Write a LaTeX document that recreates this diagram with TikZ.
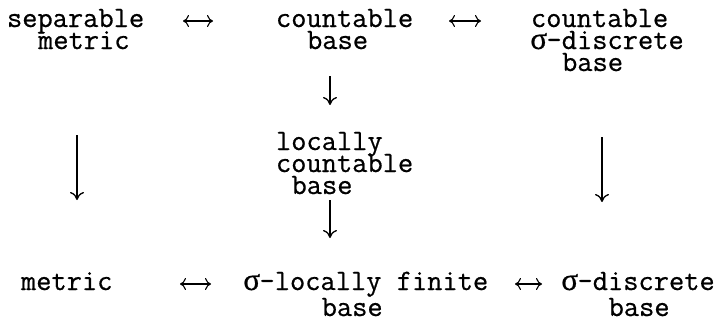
\documentclass[tikz,border=0pt]{standalone}
\usepackage{fontspec}
\usetikzlibrary{arrows.meta}
\newfontfamily\tw{Latin Modern Mono}[FakeBold=0.6]
\newfontfamily\grk{Liberation Serif}[FakeBold=0.6]
\newdimen\cellw \cellw=7.77pt
\newcommand{\sig}{\makebox[\cellw]{\grk\fontsize{15.6}{11}\selectfont σ}}
\newcommand{\ind}[1]{\hspace*{#1\cellw}}
\newcommand{\fl}{\rule{0pt}{10pt}}
\lineskiplimit=-200pt
\lineskip=0pt
\tikzset{
  lab/.style={anchor=north west, inner sep=0pt, outer sep=0pt, align=left,
    font=\fontsize{14.8}{11}\selectfont\tw},
  imp/.style={line width=0.65pt, -{Computer Modern Rightarrow[length=4pt,width=7pt]}},
  eqv/.style={line width=0.55pt, {Computer Modern Rightarrow[length=3pt,width=6pt]}-{Computer Modern Rightarrow[length=3pt,width=6pt]}}
}
\begin{document}
\begin{tikzpicture}[x=0.5pt,y=-0.5pt]
\useasboundingbox (0,0) rectangle (722,321);
% first-line baseline = node top + 20 (px)
\node[lab] (sep) at (7,7)   {\fl separable\\\ind{2}metric};
\node[lab] (cb)  at (276,7) {\fl countable\\\ind{2}base};
\node[lab] (csd) at (531,7) {\fl countable\\\sig-discrete\\\ind{2}base};
\node[lab] (lc)  at (276,130) {\fl locally\\countable\\\ind{1}base};
\node[lab] (m)   at (21,270)  {\fl metric};
\node[lab] (slf) at (244,270) {\fl\sig-locally finite\\[2pt]\ind{5}base};
\node[lab] (sd)  at (562,270) {\fl\sig-discrete\\[2pt]\ind{3}base};
% equivalences
\coordinate (e1a) at (183,21); \coordinate (e1b) at (213,21);
\coordinate (e2a) at (449,21); \coordinate (e2b) at (481,21);
\coordinate (e3a) at (180,284); \coordinate (e3b) at (211,284);
\coordinate (e4a) at (515,284); \coordinate (e4b) at (542,284);
\draw[eqv] (e1a) -- (e1b);
\draw[eqv] (e2a) -- (e2b);
\draw[eqv] (e3a) -- (e3b);
\draw[eqv] (e4a) -- (e4b);
% implications
\coordinate (a1) at (77,135); \coordinate (a1e) at (77,200);
\coordinate (a2) at (602,137); \coordinate (a2e) at (602,202);
\coordinate (a3) at (330,76); \coordinate (a3e) at (330,105);
\coordinate (a4) at (330,200); \coordinate (a4e) at (330,238);
\draw[imp] (a1) -- (a1e);
\draw[imp] (a2) -- (a2e);
\draw[imp] (a3) -- (a3e);
\draw[imp] (a4) -- (a4e);
\end{tikzpicture}
\end{document}
